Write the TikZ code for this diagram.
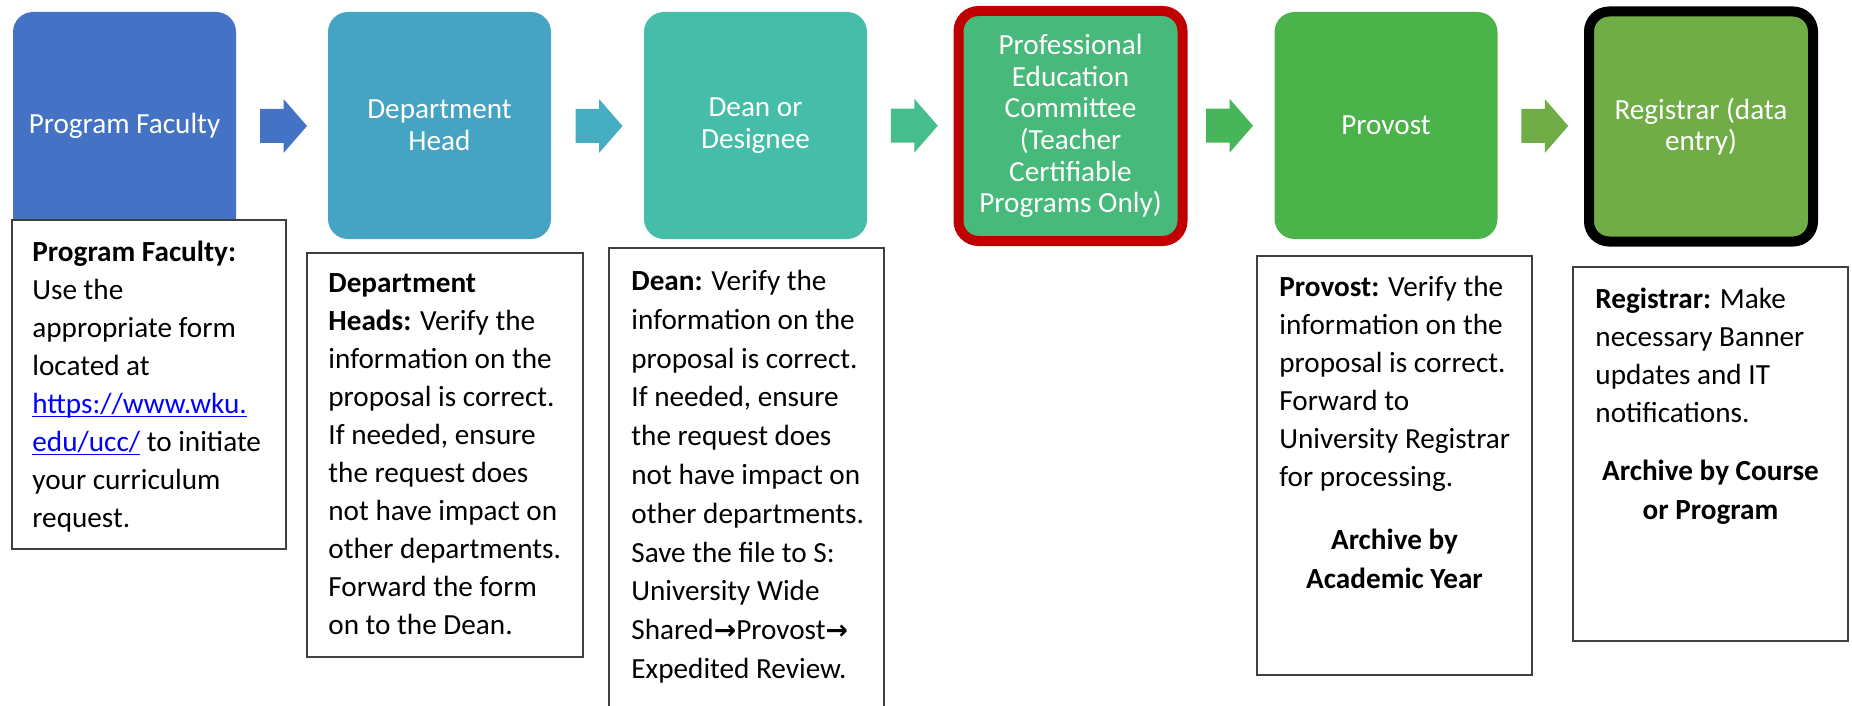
\documentclass[tikz,border=0pt]{standalone}
\usepackage{fontspec}
\setmainfont{Carlito}
\newfontfamily\arrowfont{DejaVu Sans Bold}[Scale=0.92]
\usetikzlibrary{calc}
\definecolor{cA}{HTML}{4472C4}
\definecolor{cB}{HTML}{45A3C4}
\definecolor{cC}{HTML}{46BDA8}
\definecolor{cD}{HTML}{47B97A}
\definecolor{cE}{HTML}{4AB349}
\definecolor{cF}{HTML}{70AD47}
\definecolor{aB}{HTML}{46ADC2}
\definecolor{aC}{HTML}{46BD8C}
\definecolor{aD}{HTML}{47B55A}
\definecolor{redborder}{HTML}{C00000}
\definecolor{boxgray}{HTML}{404040}
\definecolor{linkblue}{HTML}{0000FF}
\newcommand\lnk[1]{\setbox0\hbox{#1}\textcolor{linkblue}{\rlap{\rule[-1.8pt]{\wd0}{0.65pt}}\box0}}
\tikzset{
  stage/.style={rounded corners=10pt, minimum width=111.5pt, minimum height=113.5pt,
    inner sep=0pt, outer sep=0pt, text=white, align=center,
    font=\fontsize{14.6}{15.8}\selectfont},
  ringed/.style={stage, minimum width=112pt, minimum height=115pt, line width=5pt},
  infobox/.style={draw=boxgray, line width=1pt, fill=white, inner sep=0pt, outer sep=0pt, anchor=north west},
  infotext/.style={anchor=north west, inner sep=0pt, align=left,
    font=\fontsize{14.6}{19}\selectfont},
  archive/.style={anchor=north, inner sep=0pt, align=center,
    font=\bfseries\fontsize{14.6}{19.5}\selectfont},
  blockarrow/.pic={\fill[pic actions] (-23.5,-17) -- (0,-17) -- (0,-27) -- (23.5,0) -- (0,27) -- (0,17) -- (-23.5,17) -- cycle;}
}
\begin{document}
\begin{tikzpicture}[x=0.5pt, y=-0.5pt]
\useasboundingbox (0,0) rectangle (1852,706);
% stage boxes
\node[stage, fill=cA] (b1) at (124.5,125.5) {Program Faculty};
\node[stage, fill=cB] (b2) at (439.5,125.5) {Department\\Head};
\node[stage, fill=cC] (b3) at (755.5,125.5) {Dean or\\Designee};
\node[ringed, fill=cD, draw=redborder] (b4) at (1070.5,126) {Professional\\Education\\Committee\\(Teacher\\Certifiable\\Programs Only)};
\node[stage, fill=cE] (b5) at (1386,125.5) {Provost};
\node[ringed, fill=cF, draw=black] (b6) at (1701,126.5) {Registrar (data\\entry)};
% block arrows between stages
\pic[fill=cA] at ($(b1.east)!0.5!(b2.west)+(1.5,0.5)$) {blockarrow};
\pic[fill=aB] at ($(b2.east)!0.5!(b3.west)+(1.5,0.5)$) {blockarrow};
\pic[fill=aC] at ($(b3.east)!0.5!(b4.west)+(1.5,0)$) {blockarrow};
\pic[fill=aD] at ($(b4.east)!0.5!(b5.west)+(1,0)$) {blockarrow};
\pic[fill=cF] at ($(b5.east)!0.5!(b6.west)+(1.5,0)$) {blockarrow};
% info boxes
\node[infobox, minimum width=137pt, minimum height=164.5pt] (i1) at (12,220) {};
\node[infobox, minimum width=138pt, minimum height=202pt] (i2) at (307,253) {};
\node[infobox, minimum width=137.5pt, minimum height=240pt] (i3) at (609,248) {};
\node[infobox, minimum width=137.5pt, minimum height=209.5pt] (i5) at (1257,256) {};
\node[infobox, minimum width=137.5pt, minimum height=187pt] (i6) at (1573,267) {};
% texts
\node[infotext] (t1) at (32,234.4) {\strut\textbf{Program Faculty:}\\Use the\\appropriate form\\located at\\\lnk{https://www.wku.}\\\lnk{edu/ucc/} to initiate\\your curriculum\\request.};
\node[infotext] (t2) at (328,265.4) {\strut\textbf{Department}\\\textbf{Heads:} Verify the\\information on the\\proposal is correct.\\If needed, ensure\\the request does\\not have impact on\\other departments.\\Forward the form\\on to the Dean.};
\node[infotext, font=\fontsize{14.6}{19.4}\selectfont] (t3) at (631,263) {\strut\textbf{Dean:} Verify the\\information on the\\proposal is correct.\\If needed, ensure\\the request does\\not have impact on\\other departments.\\Save the file to S:\\University Wide\\Shared{\arrowfont →}Provost{\arrowfont →}\\Expedited Review.};
\node[infotext] (t5) at (1279,269.4) {\strut\textbf{Provost:} Verify the\\information on the\\proposal is correct.\\Forward to\\University Registrar\\for processing.};
\node[archive] (r5) at (1394.5,521.7) {\strut Archive by\\Academic Year};
\node[infotext] (t6) at (1595,281) {\strut\textbf{Registrar:} Make\\necessary Banner\\updates and IT\\notifications.};
\node[archive] (r6) at (1710.5,452.5) {\strut Archive by Course\\or Program};
\end{tikzpicture}
\end{document}
